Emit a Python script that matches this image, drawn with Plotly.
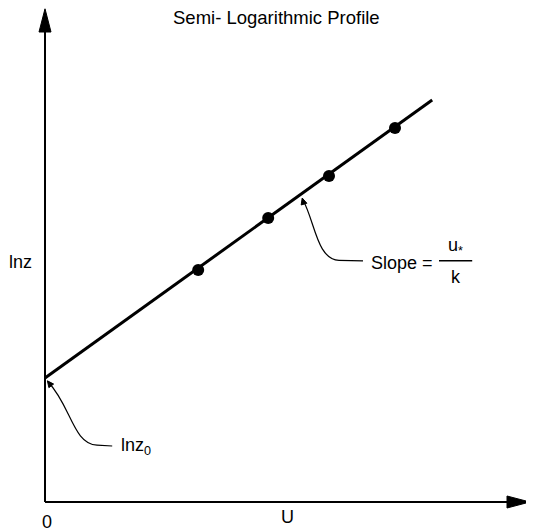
import plotly.graph_objects as go

# ------------------------
# Data (schematic units: U along x, ln z along y)
# ------------------------
u_points = [3.83, 5.58, 7.10, 8.75]
lnz_points = [5.80, 7.10, 8.15, 9.35]

# fitted profile line, from the intercept ln z0 up to the end of the drawn line
line_u = [0.0, 9.68]
line_lnz = [3.10, 10.05]

title_text = "Semi- Logarithmic Profile"
x_label = "U"
y_label = "lnz"
origin_label = "0"

FONT = dict(family="Liberation Sans, Arial, sans-serif", size=18, color="black")

fig = go.Figure()

# profile line
fig.add_trace(go.Scatter(
    x=line_u, y=line_lnz, mode="lines",
    line=dict(color="black", width=3),
    hoverinfo="skip"
))

# measured points
fig.add_trace(go.Scatter(
    x=u_points, y=lnz_points, mode="markers",
    marker=dict(color="black", size=12),
    hoverinfo="skip"
))

shapes = [
    # axes
    dict(type="line", x0=0, y0=0, x1=0, y1=11.8, line=dict(color="black", width=2)),
    dict(type="line", x0=0, y0=0, x1=11.65, y1=0, line=dict(color="black", width=2)),
    # axis arrow heads
    dict(type="path", path="M -0.15,11.75 L 0,12.33 L 0.15,11.75 Z",
         fillcolor="black", line=dict(color="black", width=1)),
    dict(type="path", path="M 11.55,0.15 L 12.12,0 L 11.55,-0.15 Z",
         fillcolor="black", line=dict(color="black", width=1)),
    # curved leaders
    dict(type="path", path="M 7.95,6.03 L 7.35,6.04 C 6.80,6.06 6.75,7.00 6.45,7.55",
         line=dict(color="black", width=1.2)),
    dict(type="path", path="M 1.68,1.40 L 1.30,1.42 C 0.70,1.45 0.65,2.40 0.08,3.00",
         line=dict(color="black", width=1.2)),
    # small heads at the tips of the leaders
    dict(type="path", path="M 6.547,7.469 L 6.43,7.60 L 6.405,7.426 Z",
         fillcolor="black", line=dict(color="black", width=1)),
    dict(type="path", path="M 0.215,2.949 L 0.06,3.03 L 0.097,2.859 Z",
         fillcolor="black", line=dict(color="black", width=1)),
    # fraction bar of the slope label
    dict(type="line", x0=9.85, y0=6.03, x1=10.68, y1=6.03, line=dict(color="black", width=1.5)),
]

annotations = [
    dict(x=5.775, y=12.125, text=title_text, showarrow=False,
         font=dict(FONT, size=18.5)),
    dict(x=-0.62, y=6.0, text=y_label, showarrow=False, font=FONT),
    dict(x=0.05, y=-0.5, text=origin_label, showarrow=False, font=FONT),
    dict(x=6.07, y=-0.38, text=x_label, showarrow=False, font=FONT),
    dict(x=8.1, y=5.98, text="Slope =", showarrow=False, xanchor="left", font=FONT),
    dict(x=10.27, y=6.38, text="u<sub>*</sub>", showarrow=False, font=FONT),
    dict(x=10.27, y=5.62, text="k", showarrow=False, font=FONT),
    dict(x=1.85, y=1.38, text="lnz<sub>0</sub>", showarrow=False, xanchor="left", font=FONT),
]

# the page adds an 8px body margin, so the figure is sized to the visible area
fig.update_layout(
    width=526, height=524,
    margin=dict(l=0, r=0, t=0, b=0),
    paper_bgcolor="white", plot_bgcolor="white",
    showlegend=False,
    shapes=shapes,
    annotations=annotations,
    xaxis=dict(range=[-0.925, 12.225], visible=False, fixedrange=True),
    yaxis=dict(range=[-0.75, 12.35], visible=False, fixedrange=True),
)

fig.write_html("out.html")
